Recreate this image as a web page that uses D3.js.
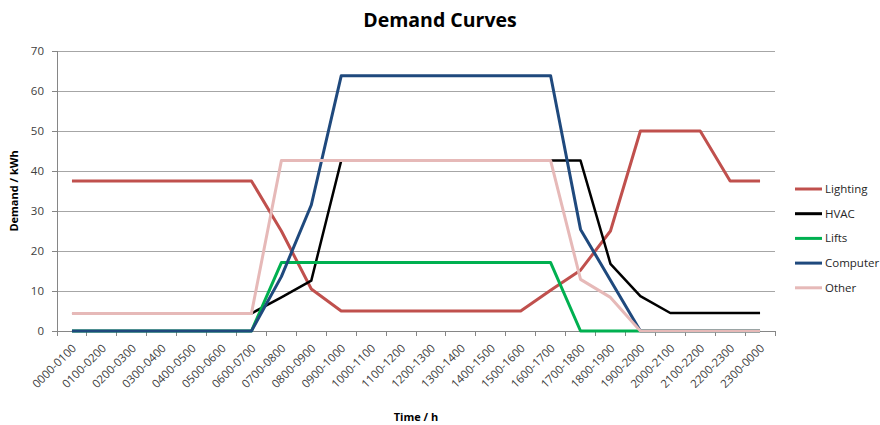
<!DOCTYPE html>
<html>
<head>
<meta charset="utf-8">
<script src="https://cdn.jsdelivr.net/npm/d3@7"></script>
<style>
  html, body { margin: 0; padding: 0; background: #ffffff; }
  svg { display: block; }
  text { font-family: "Open Sans", "DejaVu Sans", sans-serif; }
</style>
</head>
<body>
<svg id="chart" width="880" height="425"></svg>
<script>
// Hourly time slots
const hours = [
  "0000-0100", "0100-0200", "0200-0300", "0300-0400", "0400-0500", "0500-0600",
  "0600-0700", "0700-0800", "0800-0900", "0900-1000", "1000-1100", "1100-1200",
  "1200-1300", "1300-1400", "1400-1500", "1500-1600", "1600-1700", "1700-1800",
  "1800-1900", "1900-2000", "2000-2100", "2100-2200", "2200-2300", "2300-0000"
];

// Demand per slot (kWh)
const lighting = [37.5, 37.5, 37.5, 37.5, 37.5, 37.5, 37.5, 25, 10.5, 5, 5, 5,
                  5, 5, 5, 5, 10.2, 15.2, 25, 50, 50, 50, 37.5, 37.5];
const hvac     = [4.4, 4.4, 4.4, 4.4, 4.4, 4.4, 4.4, 8.4, 12.6, 42.6, 42.6, 42.6,
                  42.6, 42.6, 42.6, 42.6, 42.6, 42.6, 16.8, 8.7, 4.5, 4.5, 4.5, 4.5];
const lifts    = [0, 0, 0, 0, 0, 0, 0, 17.1, 17.1, 17.1, 17.1, 17.1,
                  17.1, 17.1, 17.1, 17.1, 17.1, 0, 0, 0, 0, 0, 0, 0];
const computer = [0, 0, 0, 0, 0, 0, 0, 13.6, 31.5, 63.8, 63.8, 63.8,
                  63.8, 63.8, 63.8, 63.8, 63.8, 25.4, 12.7, 0, 0, 0, 0, 0];
const other    = [4.4, 4.4, 4.4, 4.4, 4.4, 4.4, 4.4, 42.6, 42.6, 42.6, 42.6, 42.6,
                  42.6, 42.6, 42.6, 42.6, 42.6, 12.9, 8.4, 0, 0, 0, 0, 0];

const seriesNames  = ["Lighting", "HVAC", "Lifts", "Computer", "Other"];
const seriesValues = [lighting, hvac, lifts, computer, other];
const seriesColors = ["#C0504D", "#000000", "#00B050", "#1F497D", "#E6B9B8"];
const seriesWidths = [3, 2.5, 3, 3, 3];

const yTicks = [0, 10, 20, 30, 40, 50, 60, 70];

const svg = d3.select("#chart");
const margin = { left: 57, top: 51, right: 105, bottom: 94 };
const width = 880 - margin.left - margin.right;   // 718
const height = 425 - margin.top - margin.bottom;  // 280

const x = d3.scaleBand().domain(hours).range([0, width]).padding(0);
const y = d3.scaleLinear().domain([0, 70]).range([height, 0]);

const g = svg.append("g").attr("transform", `translate(${margin.left},${margin.top})`);

// Horizontal gridlines
g.append("g")
  .selectAll("line")
  .data(yTicks.slice(1))
  .join("line")
  .attr("x1", 0).attr("x2", width)
  .attr("y1", d => y(d)).attr("y2", d => y(d))
  .attr("stroke", "#a6a6a6")
  .attr("stroke-width", 1)
  .attr("shape-rendering", "crispEdges");

// Y axis
const yAxis = g.append("g")
  .call(d3.axisLeft(y).tickValues(yTicks).tickSize(5).tickPadding(8));
yAxis.select(".domain").attr("stroke", "#868686").attr("shape-rendering", "crispEdges");
yAxis.selectAll(".tick line").attr("stroke", "#868686").attr("shape-rendering", "crispEdges");
yAxis.selectAll(".tick text")
  .attr("fill", "#404040")
  .style("font-size", "11.5px")
  .style("font-family", "'Open Sans', sans-serif");

// X axis with ticks on band boundaries
const xAxis = g.append("g").attr("transform", `translate(0,${height})`);
xAxis.append("line")
  .attr("x1", 0).attr("x2", width)
  .attr("y1", 0).attr("y2", 0)
  .attr("stroke", "#868686")
  .attr("shape-rendering", "crispEdges");
const boundaries = hours.map(h => x(h)).concat([width]);
xAxis.selectAll("line.tickmark")
  .data(boundaries)
  .join("line")
  .attr("class", "tickmark")
  .attr("x1", d => d).attr("x2", d => d)
  .attr("y1", 0).attr("y2", 5)
  .attr("stroke", "#868686")
  .attr("shape-rendering", "crispEdges");
xAxis.selectAll("text.hour")
  .data(hours)
  .join("text")
  .attr("class", "hour")
  .attr("text-anchor", "end")
  .attr("transform", d => `translate(${x(d) + x.bandwidth() / 2 + 5},${18}) rotate(-45)`)
  .attr("fill", "#404040")
  .style("font-size", "11.5px")
  .text(d => d);

// Series lines
const line = d3.line()
  .x((d, i) => x(hours[i]) + x.bandwidth() / 2)
  .y(d => y(d));

g.append("g")
  .selectAll("path")
  .data(seriesValues)
  .join("path")
  .attr("d", d => line(d))
  .attr("fill", "none")
  .attr("stroke", (d, i) => seriesColors[i])
  .attr("stroke-width", (d, i) => seriesWidths[i])
  .attr("stroke-linejoin", "round")
  .attr("stroke-linecap", "butt");

// Title
svg.append("text")
  .attr("x", 440).attr("y", 27)
  .attr("text-anchor", "middle")
  .style("font-size", "19.5px")
  .style("font-weight", "bold")
  .attr("fill", "#000")
  .text("Demand Curves");

// Axis titles
svg.append("text")
  .attr("x", 416).attr("y", 421)
  .attr("text-anchor", "middle")
  .style("font-size", "11px")
  .style("font-weight", "bold")
  .attr("fill", "#000")
  .text("Time / h");

svg.append("text")
  .attr("transform", `translate(18,${margin.top + height / 2}) rotate(-90)`)
  .attr("text-anchor", "middle")
  .style("font-size", "11px")
  .style("font-weight", "bold")
  .attr("fill", "#000")
  .text("Demand / kWh");

// Legend
const legend = svg.append("g").attr("transform", "translate(795,189)");
const items = legend.selectAll("g")
  .data(seriesNames)
  .join("g")
  .attr("transform", (d, i) => `translate(0,${i * 24.7})`);
items.append("line")
  .attr("x1", 0).attr("x2", 27)
  .attr("y1", 0).attr("y2", 0)
  .attr("stroke", (d, i) => seriesColors[i])
  .attr("stroke-width", 3);
items.append("text")
  .attr("x", 30).attr("y", 0)
  .attr("dy", "0.35em")
  .style("font-size", "11.5px")
  .attr("fill", "#262626")
  .text(d => d);
</script>
</body>
</html>
